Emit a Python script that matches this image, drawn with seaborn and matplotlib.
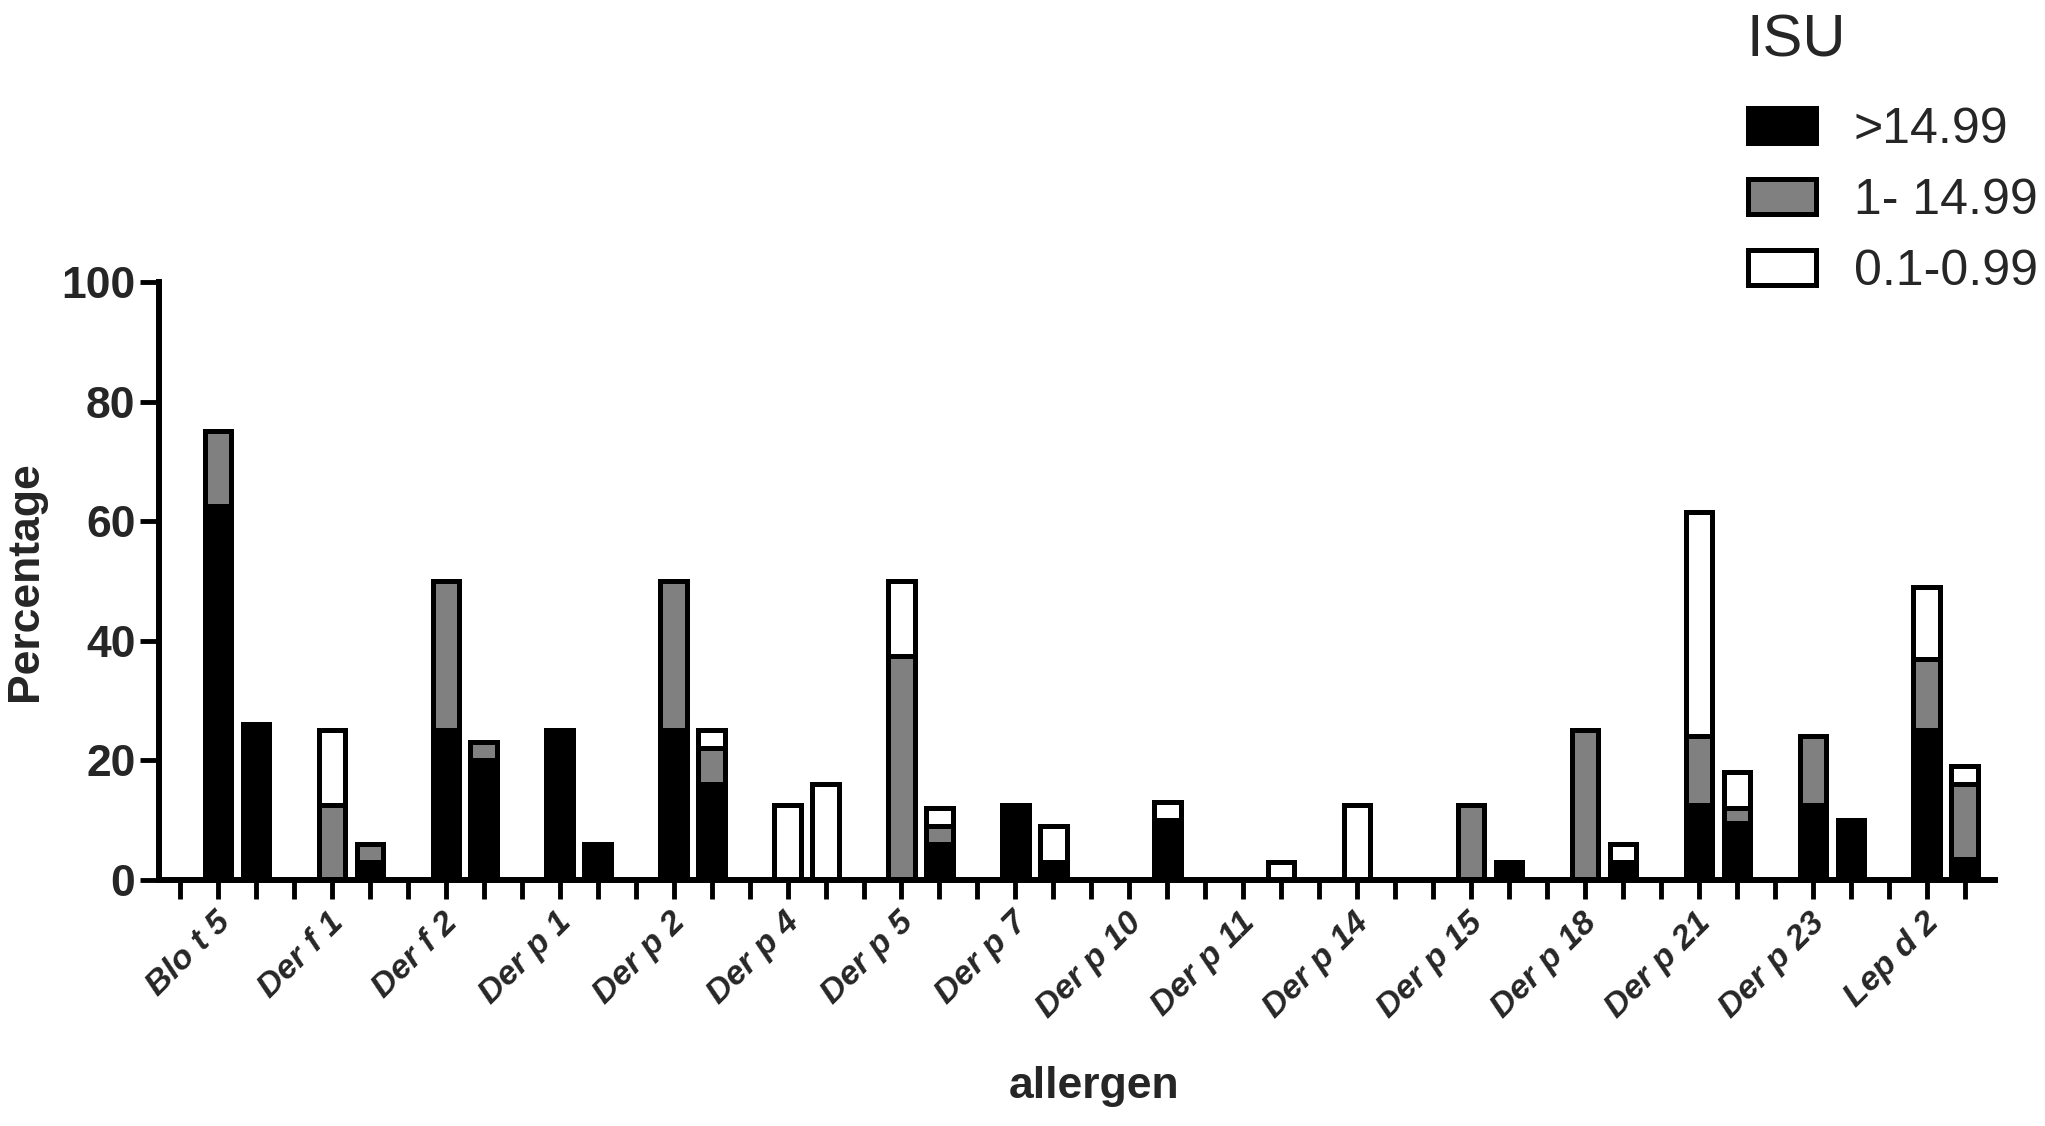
import numpy as np
import pandas as pd
import matplotlib
matplotlib.use("Agg")
import matplotlib.pyplot as plt
from matplotlib.patches import Patch
import seaborn as sns

sns.set_style("white")
plt.rcParams['font.family'] = ['Liberation Sans', 'DejaVu Sans']

# data (percentages)
allergens = ["Blo t 5", "Der f 1", "Der f 2", "Der p 1", "Der p 2", "Der p 4",
             "Der p 5", "Der p 7", "Der p 10", "Der p 11", "Der p 14",
             "Der p 15", "Der p 18", "Der p 21", "Der p 23", "Lep d 2"]

# first bar of each pair
black_1 = [62.5, 0, 25, 25, 25, 0, 0, 12.5, 0, 0, 0, 0, 0, 12.5, 12.5, 25]
gray_1 = [12.5, 12.5, 25, 0, 25, 0, 37.5, 0, 0, 0, 0, 12.5, 25, 11.5, 11.5, 12]
white_1 = [0, 12.5, 0, 0, 0, 12.5, 12.5, 0, 0, 0, 12.5, 0, 0, 37.5, 0, 12]

# second bar of each pair
black_2 = [26, 3, 20, 6, 16, 0, 6, 3, 10, 0, 0, 3, 3, 9.5, 10, 3.5]
gray_2 = [0, 3, 3, 0, 6, 0, 3, 0, 0, 0, 0, 0, 0, 2.5, 0, 12.5]
white_2 = [0, 0, 0, 0, 3, 16, 3, 6, 3, 3, 0, 0, 3, 6, 0, 3]

isu_labels = [">14.99", "1- 14.99", "0.1-0.99"]
isu_colors = ["black", "#808080", "white"]
y_ticks = [0, 20, 40, 60, 80, 100]

rows = []
for i, name in enumerate(allergens):
    rows.append(dict(allergen=name, pos=3 * i + 1, black=black_1[i],
                     gray=gray_1[i], white=white_1[i]))
    rows.append(dict(allergen=name, pos=3 * i + 2, black=black_2[i],
                     gray=gray_2[i], white=white_2[i]))
df = pd.DataFrame(rows)
df["mid"] = df["black"] + df["gray"]
df["total"] = df["mid"] + df["white"]

fig = plt.figure(figsize=(20.45, 11.26), dpi=100)
ax = fig.add_axes([0.0778, 0.2185, 0.8978, 0.5311])

lw = 3.6
# stacked look: draw totals first, then cumulative layers on top
for col, fill in [("total", "white"), ("mid", "#808080"), ("black", "black")]:
    sns.barplot(data=df, x="pos", y=col, native_scale=True, color=fill,
                saturation=1, edgecolor="black", linewidth=lw, width=0.7,
                errorbar=None, ax=ax)

ax.set_xlim(-0.55, 47.8)
ax.set_ylim(0, 100)
ax.set_xlabel("")
ax.set_ylabel("")

for side in ["top", "right"]:
    ax.spines[side].set_visible(False)
for side in ["left", "bottom"]:
    ax.spines[side].set_color("black")
    ax.spines[side].set_linewidth(4.3)

ax.set_xticks(range(48))
ax.set_xticklabels([""] * 48)
ax.set_yticks(y_ticks)
ax.set_yticklabels([str(v) for v in y_ticks], fontsize=32, fontweight="bold")
ax.tick_params(axis="both", bottom=True, left=True, direction="out",
               length=14, width=3.5, color="black", pad=3)

for i, name in enumerate(allergens):
    ax.text(3 * i + 0.9, -0.045, name, transform=ax.get_xaxis_transform(),
            rotation=45, ha="right", va="top", rotation_mode="anchor",
            fontsize=24.5, fontweight="bold", fontstyle="italic")

fig.text(0.0127, 0.484, "Percentage", rotation=90, ha="center", va="center",
         fontsize=32, fontweight="bold")
fig.text(0.535, 0.0355, "allergen", ha="center", va="center",
         fontsize=32, fontweight="bold")

# legend
fig.text(0.854, 0.964, "ISU", fontsize=43, ha="left", va="center")
handles = [Patch(facecolor=c, edgecolor="black", linewidth=lw) for c in isu_colors]
fig.legend(handles, isu_labels, loc="upper left", bbox_to_anchor=(0.855, 0.905),
           frameon=False, fontsize=36, handlelength=1.36, handleheight=0.7,
           handletextpad=0.75, labelspacing=0.5, borderpad=0, borderaxespad=0)

fig.savefig("out.png", dpi=100)
